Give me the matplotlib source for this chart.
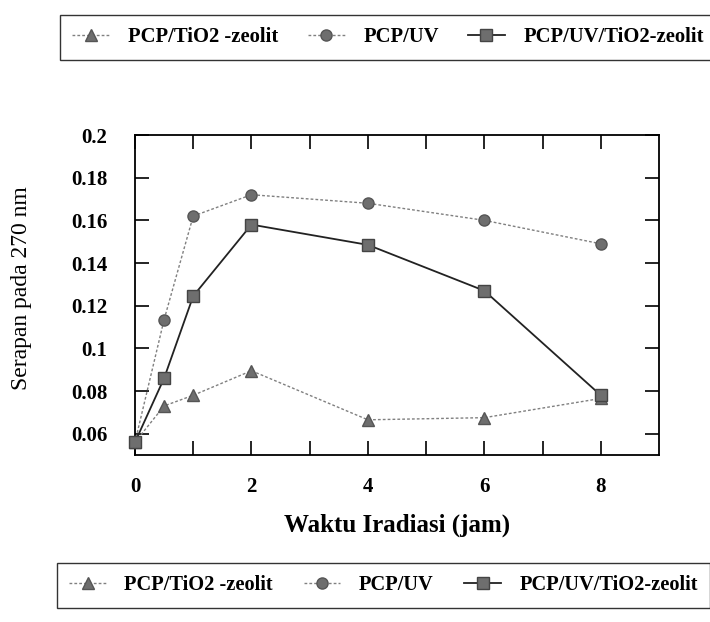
import matplotlib
matplotlib.use("Agg")
import matplotlib.pyplot as plt
from matplotlib.lines import Line2D

plt.rcParams['font.family'] = ['Liberation Serif', 'DejaVu Serif']

# ---- data ----
time_h = [0, 0.5, 1, 2, 4, 6, 8]
pcp_tio2_zeolit = [0.056, 0.073, 0.078, 0.0895, 0.0665, 0.0675, 0.0765]
pcp_uv = [0.056, 0.1135, 0.162, 0.172, 0.168, 0.160, 0.149]
pcp_uv_tio2_zeolit = [0.056, 0.086, 0.1245, 0.158, 0.1485, 0.127, 0.078]
series_labels = ["PCP/TiO2 -zeolit", "PCP/UV", "PCP/UV/TiO2-zeolit"]
x_ticks = [0, 1, 2, 3, 4, 5, 6, 7, 8]
x_ticklabels = ["0", "", "2", "", "4", "", "6", "", "8"]
y_ticks = [0.06, 0.08, 0.10, 0.12, 0.14, 0.16, 0.18, 0.20]
y_ticklabels = ["0.06", "0.08", "0.1", "0.12", "0.14", "0.16", "0.18", "0.2"]

fig = plt.figure(figsize=(7.1, 6.22), dpi=100)
ax = fig.add_axes([135/710, 1-455/622, 524/710, 320/622])

mk_col = '#6e6e6e'
styles = [
    dict(color='#808080', linestyle=(0, (2, 1.5)), linewidth=1.0, marker='^',
         markersize=8, markerfacecolor=mk_col, markeredgecolor='#555555'),
    dict(color='#808080', linestyle=(0, (2, 1.5)), linewidth=1.0, marker='o',
         markersize=8, markerfacecolor=mk_col, markeredgecolor='#555555'),
    dict(color='#222222', linestyle='-', linewidth=1.3, marker='s',
         markersize=8, markerfacecolor=mk_col, markeredgecolor='#444444'),
]
data = [pcp_tio2_zeolit, pcp_uv, pcp_uv_tio2_zeolit]
for vals, st, lab in zip(data, styles, series_labels):
    ax.plot(time_h, vals, label=lab, clip_on=False, zorder=3, **st)

ax.set_xlim(0, 9)
ax.set_ylim(0.05, 0.2)
ax.set_xticks(x_ticks)
ax.set_xticklabels(x_ticklabels, fontsize=15, fontweight='bold')
ax.set_yticks(y_ticks)
ax.set_yticklabels(y_ticklabels, fontsize=15, fontweight='bold')
ax.tick_params(direction='in', length=10, width=1.2, top=True, right=True)
ax.tick_params(axis='x', pad=16)
ax.tick_params(axis='y', pad=20)
for s in ax.spines.values():
    s.set_linewidth(1.3)

ax.set_xlabel("Waktu Iradiasi (jam)", fontsize=18, fontweight='bold', labelpad=12)
fig.text(22/710, 1-288/622, "Serapan pada 270 nm", rotation=90, fontsize=17,
         ha='center', va='center')

handles = [Line2D([], [], **st) for st in styles]

leg_kw = dict(ncol=3, frameon=True, fancybox=False, edgecolor='black',
              handlelength=1.8, borderpad=0.6, handletextpad=0.9,
              borderaxespad=0, numpoints=1)
leg1 = fig.legend(handles, series_labels, loc='upper left',
                  bbox_to_anchor=(60/710, 1-15/622),
                  prop=dict(family='Liberation Serif', weight='bold', size=14.9),
                  columnspacing=1.4, **leg_kw)
leg1.get_frame().set_linewidth(1.0)
leg2 = fig.legend(handles, series_labels, loc='upper left',
                  bbox_to_anchor=(57/710, 1-563/622),
                  prop=dict(family='Liberation Serif', weight='bold', size=14.7),
                  columnspacing=1.5, **leg_kw)
leg2.get_frame().set_linewidth(1.0)

fig.savefig("out.png", dpi=100)
